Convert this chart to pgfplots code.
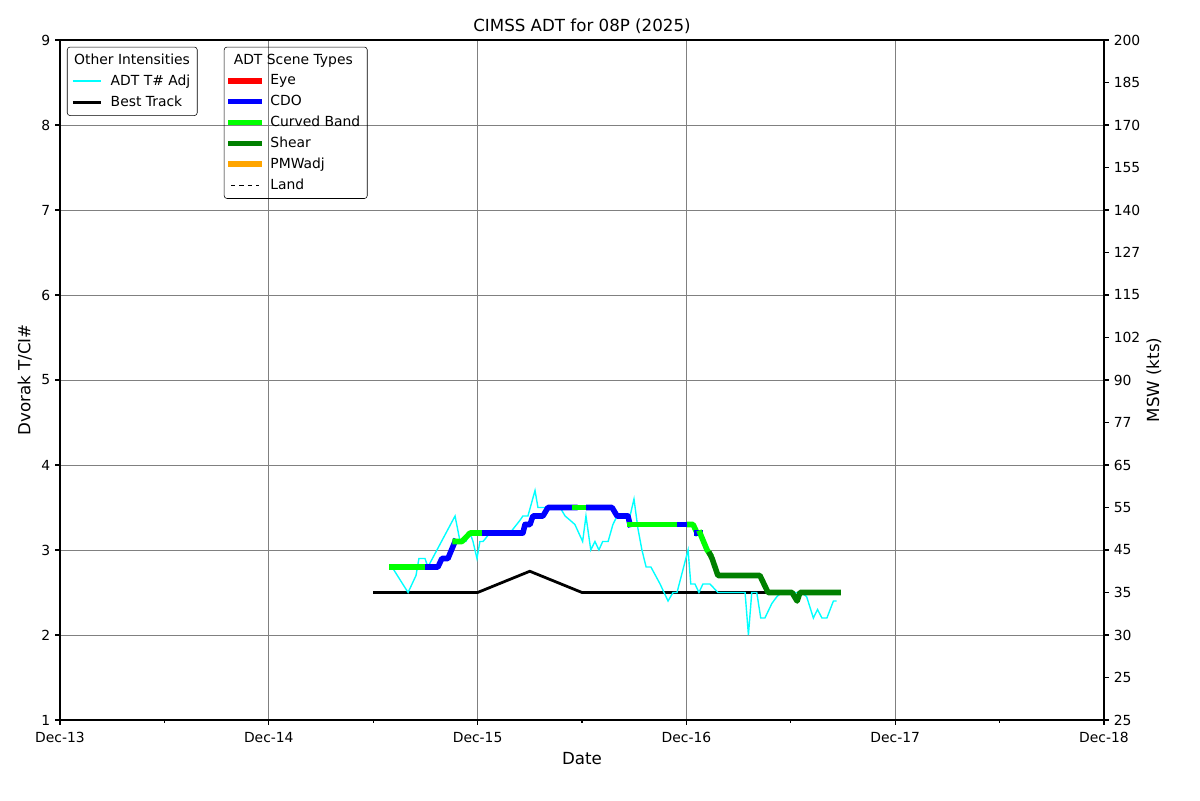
\documentclass[border=0pt]{standalone}
\usepackage{fontspec}
\setmainfont{DejaVu Sans}
\usepackage{pgfplots}
\pgfplotsset{compat=1.18}
\definecolor{cband}{RGB}{0,255,0}
\definecolor{shear}{RGB}{0,128,0}
\definecolor{cdo}{RGB}{0,0,255}
\definecolor{eye}{RGB}{255,0,0}
\definecolor{pmw}{RGB}{255,165,0}
\definecolor{adt}{RGB}{0,255,255}
\definecolor{gridgray}{RGB}{128,128,128}
\pgfplotsset{
 common/.style={
  scale only axis, width=751.68pt, height=489.6pt,
  at={(0,0)}, anchor=south west,
  xmin=0,xmax=5,ymin=1,ymax=9,
  tick align=outside,
  major tick length=3.5pt, minor tick length=2pt,
  every tick/.style={black, line width=0.8pt},
  axis line style={line width=0.8pt},
  tick label style={font=\fontsize{10}{12}\selectfont},
  xticklabel style={yshift=-2pt},
  /pgf/number format/assume math mode=true,
  every axis label/.append style={font=\fontsize{12}{14}\selectfont},
  legend cell align=left,
  legend image code/.code={\draw[##1] (0pt,0pt) -- (20pt,0pt);},
 },
 thick/.style={line width=4pt, line join=round, line cap=rect},
 leg/.style={anchor=north west, draw=black, rounded corners=2pt, fill=none, font=\fontsize{10}{12}\selectfont, row sep=2pt, column sep=4.3pt, inner ysep=3pt},
}
\begin{document}
\begin{tikzpicture}
\begin{axis}[common,
  xtick={0,1,2,3,4,5}, xticklabels={Dec-13,Dec-14,Dec-15,Dec-16,Dec-17,Dec-18},
  minor xtick={0.5,1.5,2.5,3.5,4.5},
  ytick={1,2,3,4,5,6,7,8,9},
  xtick pos=lower, ytick pos=left,
  grid=major, major grid style={gridgray, line width=0.7pt},
  xlabel={Date}, ylabel={Dvorak T/CI\#},
  ylabel near ticks, xlabel near ticks,
  title={CIMSS ADT for 08P (2025)},
  every axis title/.style={font=\fontsize{12}{14}\selectfont, at={(0.5,1)}, anchor=base, yshift=6pt},
  legend style={leg, at={(0.0067,0.99)}},
]
% Best track
\addplot[black, line width=2pt, forget plot] coordinates {
(1.5,2.5) (1.75,2.5) (2.0,2.5) (2.25,2.75) (2.5,2.5) (2.75,2.5) (3.0,2.5) (3.25,2.5) (3.5,2.5)};
% ADT T# Adj
\addplot[adt, line width=1pt, forget plot] coordinates {
(1.590,2.8) (1.667,2.5) (1.705,2.7) (1.719,2.9) (1.748,2.9) (1.762,2.8)
(1.892,3.4) (1.916,3.1) (1.944,3.1) (1.964,3.2) (1.978,3.1) (1.997,2.9)
(2.011,3.1) (2.026,3.1) (2.059,3.2) (2.155,3.2) (2.203,3.35) (2.217,3.4)
(2.241,3.4) (2.275,3.7) (2.289,3.5) (2.308,3.5) (2.395,3.5) (2.419,3.4)
(2.443,3.35) (2.466,3.3) (2.503,3.1) (2.519,3.4) (2.542,3.0) (2.562,3.1)
(2.581,3.0) (2.599,3.1) (2.625,3.1) (2.648,3.3) (2.668,3.4) (2.730,3.4)
(2.749,3.6) (2.768,3.25) (2.787,3.0) (2.807,2.8) (2.830,2.8) (2.874,2.6)
(2.912,2.4) (2.936,2.5) (2.955,2.5) (3.008,3.0) (3.021,2.6) (3.041,2.6)
(3.060,2.5) (3.079,2.6) (3.113,2.6) (3.151,2.5) (3.281,2.5) (3.297,2.0)
(3.313,2.5) (3.337,2.5) (3.356,2.2) (3.376,2.2) (3.409,2.37) (3.433,2.45)
(3.456,2.5) (3.528,2.5) (3.552,2.5) (3.576,2.45) (3.608,2.2) (3.628,2.3)
(3.649,2.2) (3.673,2.2) (3.704,2.4) (3.720,2.4)};
% Scene types (CI#)
\addplot[cband, thick, forget plot] coordinates {(1.590,2.8) (1.762,2.8)};
\addplot[cdo, thick, forget plot] coordinates {(1.762,2.8) (1.810,2.8) (1.829,2.9) (1.858,2.9) (1.892,3.1)};
\addplot[cband, thick, forget plot] coordinates {(1.892,3.1) (1.925,3.1) (1.964,3.2) (2.035,3.2)};
\addplot[cdo, thick, forget plot] coordinates {(2.035,3.2) (2.217,3.2) (2.227,3.3) (2.251,3.3) (2.265,3.4) (2.313,3.4) (2.337,3.5) (2.466,3.5)};
\addplot[cband, thick, forget plot] coordinates {(2.466,3.5) (2.533,3.5)};
\addplot[cdo, thick, forget plot] coordinates {(2.533,3.5) (2.644,3.5) (2.668,3.4) (2.720,3.4) (2.730,3.3)};
\addplot[cband, thick, forget plot] coordinates {(2.730,3.3) (2.969,3.3)};
\addplot[cdo, thick, forget plot] coordinates {(2.969,3.3) (3.017,3.3)};
\addplot[cband, thick, forget plot] coordinates {(3.017,3.3) (3.032,3.3) (3.051,3.2)};
\addplot[cdo, thick, forget plot] coordinates {(3.051,3.2) (3.065,3.2)};
\addplot[cband, thick, forget plot] coordinates {(3.065,3.2) (3.099,3.0) (3.113,2.95)};
\addplot[shear, thick, forget plot] coordinates {(3.113,2.95) (3.123,2.9) (3.151,2.7) (3.352,2.7) (3.391,2.5) (3.506,2.5) (3.530,2.4) (3.544,2.5) (3.726,2.5)};
\addlegendimage{empty legend}\addlegendentry{\hspace{-26.3pt}Other Intensities}
\addlegendimage{adt, line width=1.2pt}\addlegendentry{ADT T\# Adj}
\addlegendimage{black, line width=2pt}\addlegendentry{Best Track}
\end{axis}
\begin{axis}[common,
  axis x line=none, axis y line*=right,
  ytick={1,1.5,2,2.5,3,3.5,4,4.5,5,5.5,6,6.5,7,7.5,8,8.5,9},
  yticklabels={25,25,30,35,45,55,65,77,90,102,115,127,140,155,170,185,200},
  ylabel={MSW (kts)}, ylabel near ticks, ylabel shift=-2.5pt,
  legend style={leg, at={(0.157,0.99)}},
]
\addlegendimage{empty legend}\addlegendentry{\hspace{-26.4pt}ADT Scene Types}
\addlegendimage{eye, thick}\addlegendentry{Eye}
\addlegendimage{cdo, thick}\addlegendentry{CDO}
\addlegendimage{cband, thick}\addlegendentry{Curved Band}
\addlegendimage{shear, thick}\addlegendentry{Shear}
\addlegendimage{pmw, thick}\addlegendentry{PMWadj}
\addlegendimage{black, dashed, line width=1pt}\addlegendentry{Land}
\end{axis}
\path (-43.2pt,-57.6pt) rectangle (820.8pt,518.4pt);
\end{tikzpicture}
\end{document}
